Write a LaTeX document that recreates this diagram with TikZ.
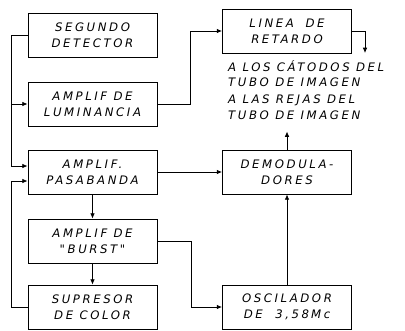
\documentclass[tikz,border=0pt]{standalone}
\usepackage{fontspec}
\newfontfamily\rotfont[LetterSpace=22]{DejaVu Sans}
\usetikzlibrary{arrows.meta}

\tikzset{
  bloque/.style={draw, line width=0.8pt, minimum width=3.87cm, minimum height=1.32cm,
    align=center, inner sep=1pt},
  rotulo/.style={font=\rotfont\itshape\fontsize{10}{13.5}\selectfont},
  conn/.style={line width=0.7pt, -{Latex[length=4.5pt,width=4pt]}},
  linea/.style={line width=0.7pt}
}

\begin{document}
\begin{tikzpicture}[x=0.03cm, y=-0.03cm, rotulo]
    \useasboundingbox (0,0) rectangle (405,330);

    % Draw the blocks on the left
    \node[bloque] (seg) at (92.5,35) {SEGUNDO\\DETECTOR};
    \node[bloque] (lum) at (92.5,104) {AMPLIF DE\\LUMINANCIA};
    \node[bloque] (pasa) at (92.5,172) {AMPLIF.\\PASABANDA};
    \node[bloque] (burst) at (92.5,241) {AMPLIF DE\\"BURST"};
    \node[bloque] (sup) at (92.5,307) {SUPRESOR\\DE COLOR};

    % blocks on the right
    \node[bloque] (ret) at (287,31) {LINEA\quad DE\\RETARDO};
    \node[bloque] (demod) at (287,172) {DEMODULA-\\DORES};
    \node[bloque] (osc) at (287,307) {OSCILADOR\\DE\ \ 3,58\,Mc};

    %labels toward the picture tube
    \node[anchor=north west, align=left, inner sep=0pt] (cat) at (228,60) {A LOS CÁTODOS DEL\\TUBO DE IMAGEN};
    \node[anchor=north west, align=left, inner sep=0pt] (rej) at (228,95) {A LAS REJAS DEL\\TUBO DE IMAGEN};

    \coordinate (B) at (11,35);
    \coordinate (S) at (365,53);

    % left bus
    \draw[conn] (seg.west) -- (B) |- ([yshift=0.18cm]pasa.west);
    \draw[conn] (B |- lum.west) -- (lum.west);
    \draw[conn] (sup.west) -- (B |- sup.west) |- ([yshift=-0.27cm]pasa.west);

    % luminance path
    \draw[conn] (lum.east) -- ++(33,0) |- (ret.west);
    \draw[conn] (ret.east) -| (S);

    % chroma path
    \draw[conn] (pasa.east) -- (demod.west);
    \draw[conn] (demod.north) -- ++(0,-18);
    \draw[conn] (pasa.south) -- (burst.north);
    \draw[conn] (burst.south) -- (sup.north);
    \draw[conn] (burst.east) -- ++(34,0) |- (osc.west);
    \draw[conn] (osc.north) -- (demod.south);

\end{tikzpicture}
\end{document}
